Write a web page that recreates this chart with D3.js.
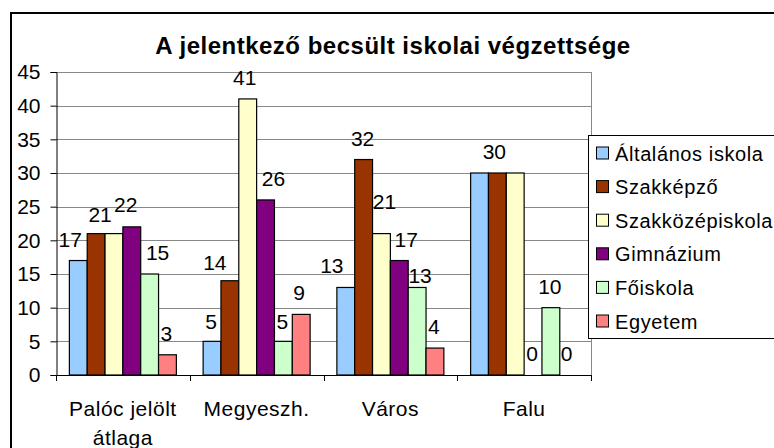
<!DOCTYPE html>
<html>
<head>
<meta charset="utf-8">
<script src="https://cdn.jsdelivr.net/npm/d3@7"></script>
<style>
  body { margin: 0; background: #fff; }
  svg text { font-family: Arial, "Liberation Sans", sans-serif; fill: #000; }
</style>
</head>
<body>
<svg id="chart" width="774" height="448"></svg>
<script>
// categories + series
const categories = [["Palóc jelölt", "átlaga"], ["Megyeszh."], ["Város"], ["Falu"]];
const seriesNames = ["Általános iskola", "Szakképző", "Szakközépiskola", "Gimnázium", "Főiskola", "Egyetem"];
const seriesColors = ["#99CCFF", "#993300", "#FFFFCC", "#800080", "#CCFFCC", "#FF8080"];
const values = [
  [17, 21, 21, 22, 15, 3],
  [5, 14, 41, 26, 5, 9],
  [13, 32, 21, 17, 13, 4],
  [30, 30, 30, 0, 10, 0]
];
const yTicks = [0, 5, 10, 15, 20, 25, 30, 35, 40, 45];

// small label nudges (dx, dy) the original used to dodge overlaps;
// null = label sits exactly on top of a neighbour with the same value, draw it once
const labelNudge = [
  [[-8, 0], [4, 2], null, [-6, -1], [8, 0], [-1, 0]],
  [[-1, 2], [-15, 3], [-3, 0], [8, 0], [-1, 2], [-2, 0]],
  [[-14, 0], [-1, 0], [3, -11], [7, 0], [3, 10], [-1, 0]],
  [null, [-3, 0], null, [-1, 0], [-1, 0], [-2, 0]]
];

class GroupedBars {

  constructor(_config) {
    this.config = {
      parentElement: _config.parentElement,
      left: 56, right: 591, top: 72, bottom: 375
    }
    this.initVis();
  }

  initVis() {
    let vis = this;
    let c = vis.config;

    vis.svg = d3.select(c.parentElement);

    // outer chart frame (runs off the picture right and bottom)
    vis.svg.append("rect")
      .attr("x", 11).attr("y", 13)
      .attr("width", 800).attr("height", 500)
      .attr("fill", "none").attr("stroke", "#000").attr("stroke-width", 2);

    vis.svg.append("text")
      .attr("x", 393).attr("y", 54)
      .attr("text-anchor", "middle")
      .style("font-size", "24px").style("font-weight", "bold")
      .style("letter-spacing", "0.5px")
      .text("A jelentkező becsült iskolai végzettsége");

    vis.x0 = d3.scaleBand()
      .domain(d3.range(categories.length))
      .range([c.left, c.right])
      .paddingInner(0).paddingOuter(0);

    // gap width 150% -> inner band holds 6 bars out of 7.5
    let gap = vis.x0.bandwidth() * 1.5 / 7.5 / 2;
    vis.x1 = d3.scaleBand()
      .domain(d3.range(seriesNames.length))
      .range([gap, vis.x0.bandwidth() - gap]);

    vis.y = d3.scaleLinear().domain([0, 45]).range([c.bottom, c.top]);

    // gridlines
    vis.svg.append("g")
      .selectAll("line")
      .data(yTicks.filter(d => d > 0))
      .join("line")
        .attr("x1", c.left).attr("x2", c.right)
        .attr("y1", d => Math.round(vis.y(d)) + 0.5)
        .attr("y2", d => Math.round(vis.y(d)) + 0.5)
        .attr("stroke", "#888");

    // plot area right edge
    vis.svg.append("line")
      .attr("x1", c.right + 0.5).attr("x2", c.right + 0.5)
      .attr("y1", c.top).attr("y2", c.bottom)
      .attr("stroke", "#888");

    // bars
    vis.groups = vis.svg.append("g")
      .selectAll("g")
      .data(values)
      .join("g")
        .attr("transform", (d, i) => `translate(${vis.x0(i)},0)`);

    vis.groups.selectAll("rect")
      .data(d => d)
      .join("rect")
        .attr("x", (d, j) => vis.x1(j))
        .attr("y", d => vis.y(d))
        .attr("width", vis.x1.bandwidth())
        .attr("height", d => vis.y(0) - vis.y(d))
        .attr("fill", (d, j) => seriesColors[j])
        .attr("stroke", "#000")
        .attr("stroke-width", 1.2);

    vis.groups.each(function(row, i) {
      let labels = row.map((v, j) => ({ v: v, j: j, n: labelNudge[i][j] }))
        .filter(d => d.n);
      d3.select(this).selectAll("text.val")
        .data(labels)
        .join("text")
          .attr("class", "val")
          .attr("x", d => vis.x1(d.j) + vis.x1.bandwidth() / 2 + d.n[0])
          .attr("y", d => vis.y(d.v) - 14 + d.n[1])
          .attr("text-anchor", "middle")
          .style("font-size", "21px")
          .text(d => d.v);
    });

    // y axis
    let yAxis = d3.axisLeft(vis.y).tickValues(yTicks).tickSize(6).tickPadding(10);
    let gy = vis.svg.append("g")
      .attr("transform", `translate(${c.left + 0.5},0)`)
      .call(yAxis);
    gy.select(".domain").attr("stroke", "#000");
    gy.selectAll(".tick line").attr("stroke", "#000");
    gy.selectAll(".tick text").style("font-size", "21px").attr("font-family", null);

    // x axis with ticks at category boundaries
    vis.svg.append("line")
      .attr("x1", c.left).attr("x2", c.right + 1)
      .attr("y1", c.bottom + 0.5).attr("y2", c.bottom + 0.5)
      .attr("stroke", "#000");

    vis.svg.append("g")
      .selectAll("line")
      .data(d3.range(categories.length + 1))
      .join("line")
        .attr("x1", i => Math.round(c.left + i * vis.x0.step()) + 0.5)
        .attr("x2", i => Math.round(c.left + i * vis.x0.step()) + 0.5)
        .attr("y1", c.bottom).attr("y2", c.bottom + 6)
        .attr("stroke", "#000");

    vis.svg.append("g")
      .selectAll("text")
      .data(categories)
      .join("text")
        .attr("text-anchor", "middle")
        .attr("x", (d, i) => vis.x0(i) + vis.x0.bandwidth() / 2)
        .attr("y", 416)
        .style("font-size", "21px")
        .style("letter-spacing", "0.5px")
        .selectAll("tspan")
        .data(d => d)
        .join("tspan")
          .attr("x", function() { return d3.select(this.parentNode).attr("x"); })
          .attr("dy", (d, k) => k === 0 ? 0 : 29)
          .text(d => d);

    // legend
    let lg = vis.svg.append("g");
    lg.append("rect")
      .attr("x", 588.5).attr("y", 135.5)
      .attr("width", 300).attr("height", 203)
      .attr("fill", "#fff").attr("stroke", "#000");

    let items = lg.selectAll("g")
      .data(seriesNames)
      .join("g")
        .attr("transform", (d, i) => `translate(596, ${153 + i * 33.6})`);

    items.append("rect")
      .attr("x", 0.5).attr("y", -6)
      .attr("width", 12).attr("height", 12)
      .attr("fill", (d, i) => seriesColors[i])
      .attr("stroke", "#000");

    items.append("text")
      .attr("x", 19).attr("y", 7.5)
      .style("font-size", "20px")
      .style("letter-spacing", "0.6px")
      .text(d => d);
  }
}

new GroupedBars({ parentElement: "#chart" });
</script>
</body>
</html>
